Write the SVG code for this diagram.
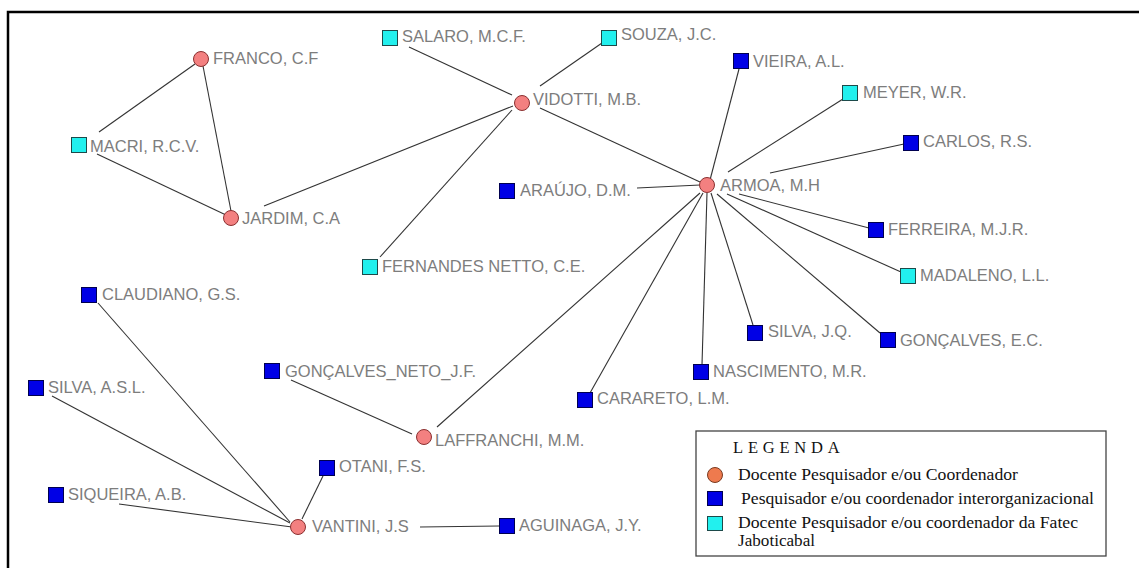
<svg xmlns="http://www.w3.org/2000/svg" width="1139" height="568" viewBox="0 0 1139 568">
<style>
.bg{fill:#ffffff}
.frame{stroke:#000;stroke-width:2.5;fill:none}
.e{stroke:#333;stroke-width:1.1;fill:none}
.doc{fill:#f38080;stroke:#8a3030;stroke-width:1}
.ext{fill:#0000e6;stroke:#000050;stroke-width:1}
.fat{fill:#22f0ee;stroke:#1d4a4a;stroke-width:1}
.lbl{font-family:"Liberation Sans",Arial,sans-serif;font-size:16.5px;fill:#7d7d7d}
.leg{font-family:"Liberation Serif","Times New Roman",serif;font-size:16.5px;fill:#111}
.legbox{fill:#fff;stroke:#444;stroke-width:1.3}
</style>
<rect class="bg" x="0" y="0" width="1139" height="568"/>
<path class="frame" d="M8,568 V12 H1139"/>
<g id="connectors">
<line class="e" x1="99" y1="132" x2="195" y2="64"/>
<line class="e" x1="203" y1="66" x2="231" y2="211"/>
<line class="e" x1="97" y1="154" x2="226" y2="215"/>
<line class="e" x1="264" y1="206" x2="513" y2="106"/>
<line class="e" x1="409" y1="47" x2="512" y2="95"/>
<line class="e" x1="540" y1="86" x2="602" y2="43"/>
<line class="e" x1="512" y1="110" x2="380" y2="257"/>
<line class="e" x1="540" y1="108" x2="700" y2="182"/>
<line class="e" x1="637" y1="188" x2="700" y2="185"/>
<line class="e" x1="710" y1="180" x2="739" y2="69"/>
<line class="e" x1="728" y1="172" x2="843" y2="99"/>
<line class="e" x1="770" y1="173" x2="904" y2="144"/>
<line class="e" x1="739" y1="194" x2="869" y2="228"/>
<line class="e" x1="727" y1="194" x2="901" y2="272"/>
<line class="e" x1="717" y1="194" x2="880" y2="333"/>
<line class="e" x1="711" y1="193" x2="753" y2="325"/>
<line class="e" x1="707" y1="193" x2="702" y2="365"/>
<line class="e" x1="703" y1="193" x2="590" y2="393"/>
<line class="e" x1="700" y1="193" x2="437" y2="427"/>
<line class="e" x1="291" y1="380" x2="412" y2="434"/>
<line class="e" x1="98" y1="303" x2="290" y2="522"/>
<line class="e" x1="52" y1="396" x2="290" y2="523"/>
<line class="e" x1="119" y1="504" x2="292" y2="527"/>
<line class="e" x1="302" y1="519" x2="323" y2="476"/>
<line class="e" x1="420" y1="527" x2="499" y2="526"/>
</g>
<g id="n-franco"><circle class="doc" cx="201" cy="59" r="7.5"/><text class="lbl" x="213" y="64">FRANCO, C.F</text></g>
<g id="n-jardim"><circle class="doc" cx="231" cy="218" r="7.5"/><text class="lbl" x="242" y="224">JARDIM, C.A</text></g>
<g id="n-vidotti"><circle class="doc" cx="522" cy="103" r="7.5"/><text class="lbl" x="533" y="105">VIDOTTI, M.B.</text></g>
<g id="n-armoa"><circle class="doc" cx="707" cy="185" r="7.5"/><text class="lbl" x="720" y="191">ARMOA, M.H</text></g>
<g id="n-laffranchi"><circle class="doc" cx="424" cy="437" r="7.5"/><text class="lbl" x="435" y="446">LAFFRANCHI, M.M.</text></g>
<g id="n-vantini"><circle class="doc" cx="298" cy="527" r="7.5"/><text class="lbl" x="312" y="532">VANTINI, J.S</text></g>
<g id="n-macri"><rect class="fat" x="71.5" y="137.5" width="15" height="15"/><text class="lbl" x="90" y="152">MACRI, R.C.V.</text></g>
<g id="n-salaro"><rect class="fat" x="382.5" y="30.5" width="15" height="15"/><text class="lbl" x="402" y="42">SALARO, M.C.F.</text></g>
<g id="n-souza"><rect class="fat" x="601.5" y="30.5" width="15" height="15"/><text class="lbl" x="621" y="40">SOUZA, J.C.</text></g>
<g id="n-vieira"><rect class="ext" x="733.5" y="53.5" width="15" height="15"/><text class="lbl" x="753" y="67">VIEIRA, A.L.</text></g>
<g id="n-meyer"><rect class="fat" x="842.5" y="85.5" width="15" height="15"/><text class="lbl" x="863" y="98">MEYER, W.R.</text></g>
<g id="n-carlos"><rect class="ext" x="903.5" y="135.5" width="15" height="15"/><text class="lbl" x="923" y="147">CARLOS, R.S.</text></g>
<g id="n-araujo"><rect class="ext" x="499.5" y="183.5" width="15" height="15"/><text class="lbl" x="520" y="196">ARAÚJO, D.M.</text></g>
<g id="n-fernandes"><rect class="fat" x="362.5" y="259.5" width="15" height="15"/><text class="lbl" x="382" y="272">FERNANDES NETTO, C.E.</text></g>
<g id="n-ferreira"><rect class="ext" x="868.5" y="222.5" width="15" height="15"/><text class="lbl" x="888" y="235">FERREIRA, M.J.R.</text></g>
<g id="n-madaleno"><rect class="fat" x="900.5" y="268.5" width="15" height="15"/><text class="lbl" x="920" y="281">MADALENO, L.L.</text></g>
<g id="n-silvajq"><rect class="ext" x="747.5" y="325.5" width="15" height="15"/><text class="lbl" x="768" y="337">SILVA, J.Q.</text></g>
<g id="n-goncalvesec"><rect class="ext" x="880.5" y="332.5" width="15" height="15"/><text class="lbl" x="900" y="346">GONÇALVES, E.C.</text></g>
<g id="n-nascimento"><rect class="ext" x="693.5" y="364.5" width="15" height="15"/><text class="lbl" x="713" y="377">NASCIMENTO, M.R.</text></g>
<g id="n-carareto"><rect class="ext" x="577.5" y="392.5" width="15" height="15"/><text class="lbl" x="597" y="404">CARARETO, L.M.</text></g>
<g id="n-claudiano"><rect class="ext" x="81.5" y="287.5" width="15" height="15"/><text class="lbl" x="102" y="300">CLAUDIANO, G.S.</text></g>
<g id="n-goncalvesneto"><rect class="ext" x="264.5" y="363.5" width="15" height="15"/><text class="lbl" x="285" y="377">GONÇALVES_NETO_J.F.</text></g>
<g id="n-silvaasl"><rect class="ext" x="28.5" y="380.5" width="15" height="15"/><text class="lbl" x="48" y="393">SILVA, A.S.L.</text></g>
<g id="n-otani"><rect class="ext" x="319.5" y="460.5" width="15" height="15"/><text class="lbl" x="339" y="472">OTANI, F.S.</text></g>
<g id="n-siqueira"><rect class="ext" x="48.5" y="487.5" width="15" height="15"/><text class="lbl" x="68" y="500">SIQUEIRA, A.B.</text></g>
<g id="n-aguinaga"><rect class="ext" x="499.5" y="518.5" width="15" height="15"/><text class="lbl" x="519" y="531">AGUINAGA, J.Y.</text></g>
<g id="legend">
<rect class="legbox" x="696" y="431" width="410" height="125"/>
<text class="leg" x="733" y="453" letter-spacing="4.8">LEGENDA</text>
<circle cx="715" cy="475" r="7.5" fill="#ee7a4e" stroke="#7a3a20" stroke-width="1"/>
<text class="leg" x="738" y="480" textLength="280" lengthAdjust="spacingAndGlyphs">Docente Pesquisador e/ou Coordenador</text>
<rect class="ext" x="707.5" y="491.5" width="15" height="14"/>
<text class="leg" x="741" y="504" textLength="353" lengthAdjust="spacingAndGlyphs">Pesquisador e/ou coordenador  interorganizacional</text>
<rect class="fat" x="707.5" y="516.5" width="15" height="14"/>
<text class="leg" x="738" y="528" textLength="340" lengthAdjust="spacingAndGlyphs">Docente Pesquisador e/ou coordenador da Fatec</text>
<text class="leg" x="738" y="546" textLength="77" lengthAdjust="spacingAndGlyphs">Jaboticabal</text>
</g>
</svg>
